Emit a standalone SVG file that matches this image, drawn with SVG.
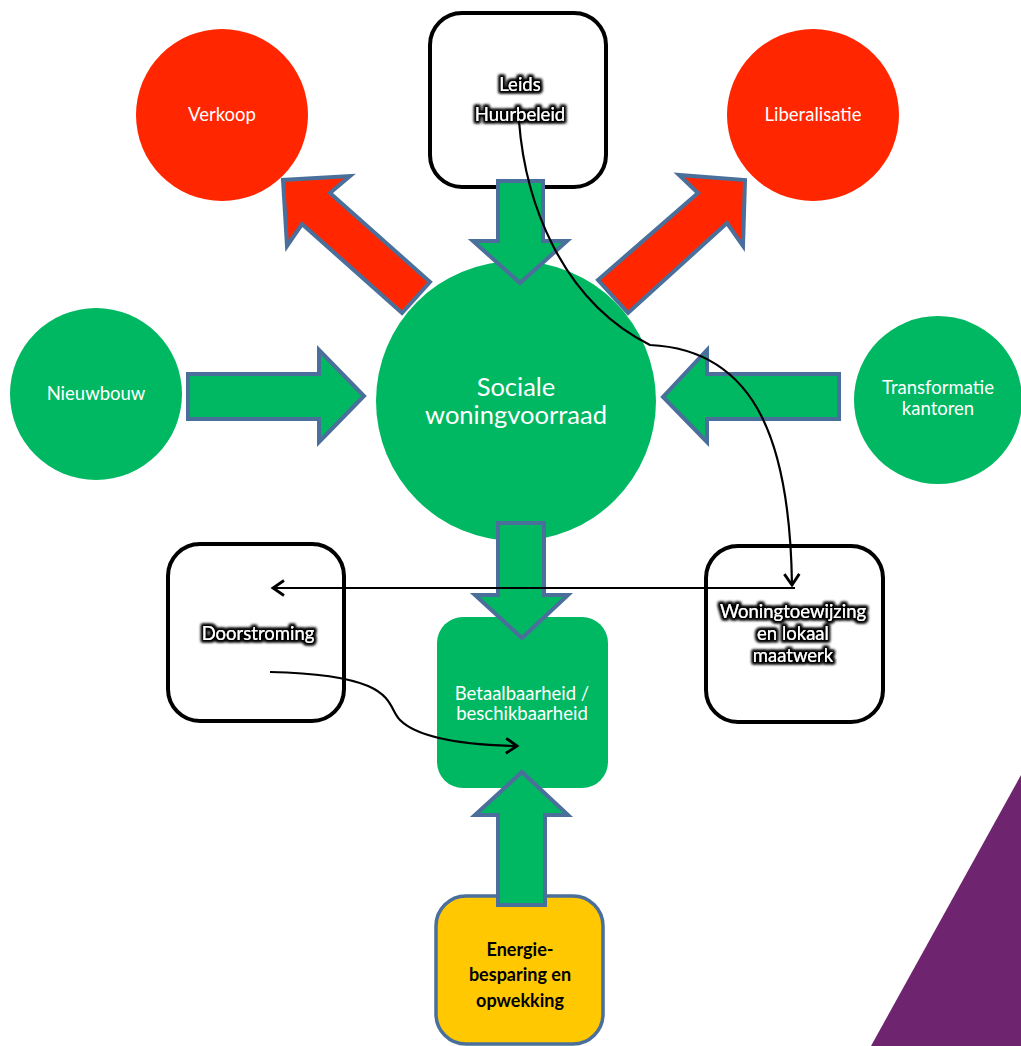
<svg xmlns="http://www.w3.org/2000/svg" width="1021" height="1046" viewBox="0 0 1021 1046">
<defs>
<style>
.wt{font-family:Lato,"Open Sans",sans-serif;fill:#fff;text-anchor:middle}
.bk{font-family:Lato,"Open Sans",sans-serif;fill:#000;text-anchor:middle;font-weight:bold}
.ga{fill:#00B862;stroke:#4A6F9B;stroke-width:4;stroke-linejoin:miter}
.ra{fill:#FF2600;stroke:#4A6F9B;stroke-width:4;stroke-linejoin:miter}
.wb{fill:#fff;stroke:#000;stroke-width:4}
.con{fill:none;stroke:#000;stroke-width:2.2}
.halo{filter:url(#glow)}
</style>
<filter id="glow" x="-20%" y="-50%" width="140%" height="200%">
<feMorphology in="SourceAlpha" operator="dilate" radius="2.2" result="d"/>
<feGaussianBlur in="d" stdDeviation="1.7" result="b"/>
<feFlood flood-color="#000"/>
<feComposite in2="b" operator="in" result="s"/>
<feMerge><feMergeNode in="s"/><feMergeNode in="s"/><feMergeNode in="SourceGraphic"/></feMerge>
</filter>
<marker id="open" markerWidth="18" markerHeight="18" refX="13" refY="9" orient="auto" markerUnits="userSpaceOnUse">
<polyline points="2,1.5 13,9 2,16.5" fill="none" stroke="#000" stroke-width="2.8"/>
</marker>
</defs>
<polygon points="1021,775 1021,1046 871,1046" fill="#6E246E"/>

<g id="node-verkoop"><circle cx="222" cy="115" r="86" fill="#FF2600"/><text class="wt" x="222" y="121" font-size="18.5">Verkoop</text></g>
<g id="node-liberalisatie"><circle cx="813" cy="115" r="86" fill="#FF2600"/><text class="wt" x="813" y="121" font-size="18.5">Liberalisatie</text></g>
<g id="node-nieuwbouw"><circle cx="96" cy="394" r="86" fill="#00B862"/><text class="wt" x="96" y="400" font-size="18.5">Nieuwbouw</text></g>
<g id="node-transformatie"><circle cx="938" cy="400" r="84" fill="#00B862"/><text class="wt" x="938" y="394" font-size="18.5">Transformatie</text><text class="wt" x="938" y="415" font-size="18.5">kantoren</text></g>
<g id="node-sociale"><circle cx="516" cy="401" r="140" fill="#00B862"/><text class="wt" x="516" y="396" font-size="25.5">Sociale</text><text class="wt" x="516" y="424" font-size="25.5">woningvoorraad</text></g>
<g id="node-leids"><rect class="wb" x="430" y="13" width="176" height="174" rx="32"/><g class="halo"><text class="wt" x="520" y="91" font-size="18.5">Leids</text><text class="wt" x="520" y="121" font-size="18.5">Huurbeleid</text></g></g>
<g id="node-betaalbaarheid"><rect x="437" y="617" width="171" height="171" rx="26" fill="#00B862"/><text class="wt" x="522" y="700" font-size="18.5">Betaalbaarheid /</text><text class="wt" x="522" y="720" font-size="18.5">beschikbaarheid</text></g>
<g id="node-doorstroming"><rect class="wb" x="168" y="544" width="176" height="177" rx="32"/><text class="wt halo" x="258" y="640" font-size="18.5">Doorstroming</text></g>
<g id="node-woningtoewijzing"><rect class="wb" x="706" y="546" width="177" height="176" rx="32"/><g class="halo"><text class="wt" x="793" y="618" font-size="18.5">Woningtoewijzing</text><text class="wt" x="793" y="640" font-size="18.5">en lokaal</text><text class="wt" x="793" y="662" font-size="18.5">maatwerk</text></g></g>
<g id="node-energie"><rect x="436" y="896" width="167" height="148" rx="30" fill="#FFC800" stroke="#4A6F9B" stroke-width="3.5"/><text class="bk" x="520" y="956" font-size="18">Energie-</text><text class="bk" x="520" y="981" font-size="18">besparing en</text><text class="bk" x="520" y="1007" font-size="18">opwekking</text></g>

<g id="block-arrows">
<polygon class="ga" points="498,181 543,181 543,241 567,241 520,283 473,241 498,241"/>
<polygon class="ga" points="188,374 319,374 319,350 364,396 319,442 319,419 188,419"/>
<polygon class="ga" points="839,374 707,374 707,350 663,397 707,442 707,419 839,419"/>
<polygon class="ga" points="498,523 544,523 544,595 568,595 522,638 475,595 498,595"/>
<polygon class="ga" points="498,905 545,905 545,815 568,815 522,772 475,815 498,815"/>
<polygon class="ra" points="430,282 330,193 350,176 283,180 287,246 302,224 402,313"/>
<polygon class="ra" points="598,280 698,193 679,175 745,180 743,246 727,223 628,313"/>
</g>

<g id="connectors">
<path class="con" d="M519,121 C525,200 560,300 650,345 C760,350 790,450 792,585" marker-end="url(#open)"/>
<path class="con" d="M795,588 L273,588" marker-end="url(#open)"/>
<path class="con" d="M270,672 C400,675 385,705 400,720 C420,740 470,745 517,746" marker-end="url(#open)"/>
</g>
</svg>
